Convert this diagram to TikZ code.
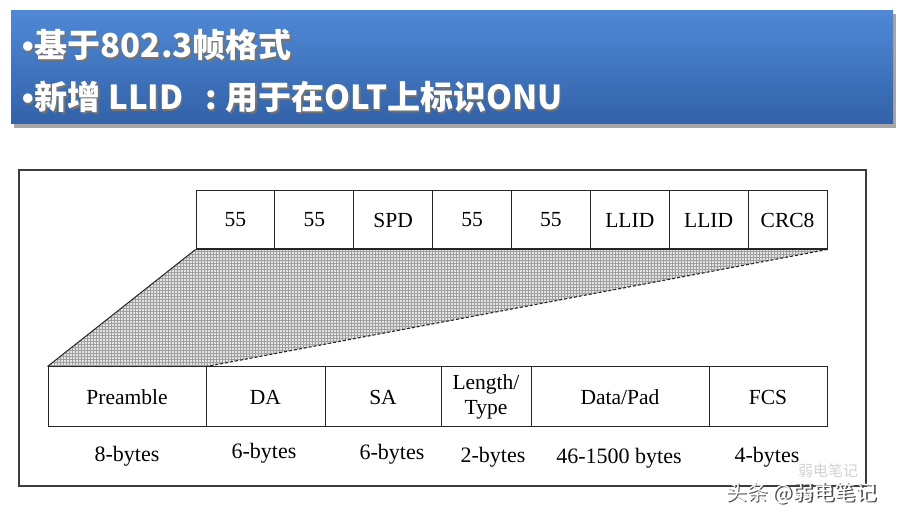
\documentclass[tikz,border=0pt]{standalone}
\usepackage{fontspec}
\setmainfont{Liberation Serif}
\newfontfamily\cjk{Noto Sans CJK SC}
\newfontfamily\bul{Liberation Sans}
\usetikzlibrary{patterns}
\definecolor{bandtop}{RGB}{80,136,214}
\definecolor{bandbot}{RGB}{50,98,168}
\definecolor{framecol}{RGB}{60,60,60}
\newcommand{\tbul}{{\bul\bfseries •}\kern1pt}
\newcommand{\lineone}{\tbul 基于802.3帧格式}
\newcommand{\linetwo}{\tbul 新增 LLID\hspace{22pt}:\hspace{9pt}用于在OLT上标识ONU}
\begin{document}
\begin{tikzpicture}[x=1pt,y=-1pt,
  cell/.style={draw=black!85, line width=1pt, minimum height=58pt, inner sep=0pt, font=\fontsize{21.5}{24}\selectfont},
  bcell/.style={draw=black!85, line width=1pt, minimum height=60pt, inner sep=0pt, font=\fontsize{21.5}{24}\selectfont, align=center},
  bytes/.style={inner sep=0pt, font=\fontsize{22}{25}\selectfont},
  title/.style={anchor=west, inner sep=0pt, font=\cjk\bfseries\fontsize{33}{36}\selectfont}]
\useasboundingbox (0,0) rectangle (898,518);
% title band
\fill[black!35] (14,14) rectangle (896,128);
\shade[top color=bandtop, bottom color=bandbot] (11,11) rectangle (893,124);
\node[title, text=black!55] at (23.5,46.5) {\lineone};
\node[title, text=white] (l1) at (22,45) {\lineone};
\node[title, text=black!55] at (23.5,98.5) {\linetwo};
\node[title, text=white] (l2) at (22,97) {\linetwo};
% outer frame
\draw[framecol, line width=1.6pt] (19,170) rectangle (866,486);
% top row cells
\foreach \n/\t [count=\i] in {t1/55,t2/55,t3/SPD,t4/55,t5/55,t6/LLID,t7/LLID,t8/CRC8}{
  \node[cell, minimum width=78.875pt] (\n) at ({196+78.875*(\i-0.5)},220) {\t};
}
% bottom row cells
\node[bcell, minimum width=158pt] (pre) at (127,397) {Preamble};
\node[bcell, minimum width=119pt] (da) at (265.5,397) {DA};
\node[bcell, minimum width=116pt] (sa) at (383,397) {SA};
\node[bcell, minimum width=90pt, font=\fontsize{21.5}{25}\selectfont] (lt) at (486,397) {Length/\\Type};
\node[bcell, minimum width=178pt] (dp) at (620,397) {Data/Pad};
\node[bcell, minimum width=118pt] (fcs) at (768,397) {FCS};
% hatched expansion
\fill[gray!22] (t1.south west) -- (t8.south east) -- (pre.north east) -- (pre.north west) -- cycle;
\fill[pattern=grid, pattern color=gray!75] (t1.south west) -- (t8.south east) -- (pre.north east) -- (pre.north west) -- cycle;
\draw[black!85, line width=1pt] (t1.south west) -- (pre.north west);
\draw[black!85, line width=1.1pt, densely dashed] (t8.south east) -- (pre.north east);
\draw[black!85, line width=1pt] (t1.south west) -- (t8.south east);
\draw[black!85, line width=1pt] (pre.north west) -- (fcs.north east);
% byte labels
\node[bytes] (b1) at (127,456) {8-bytes};
\node[bytes] (b2) at (264,453) {6-bytes};
\node[bytes] (b3) at (392,454) {6-bytes};
\node[bytes] (b4) at (493,457) {2-bytes};
\node[bytes] (b5) at (619,458) {46-1500 bytes};
\node[bytes] (b6) at (767,457) {4-bytes};
% watermark
\node[inner sep=0pt, text=gray!35, font=\cjk\fontsize{15}{17}\selectfont] (wm0) at (828,471) {弱电笔记};
\node[inner sep=0pt, text=black!70, font=\cjk\fontsize{21}{23}\selectfont] at (802.8,494.8) {头条 @弱电笔记};
\node[inner sep=0pt, text=white, font=\cjk\fontsize{21}{23}\selectfont] (wm) at (801.5,493.5) {头条 @弱电笔记};
\end{tikzpicture}
\end{document}
